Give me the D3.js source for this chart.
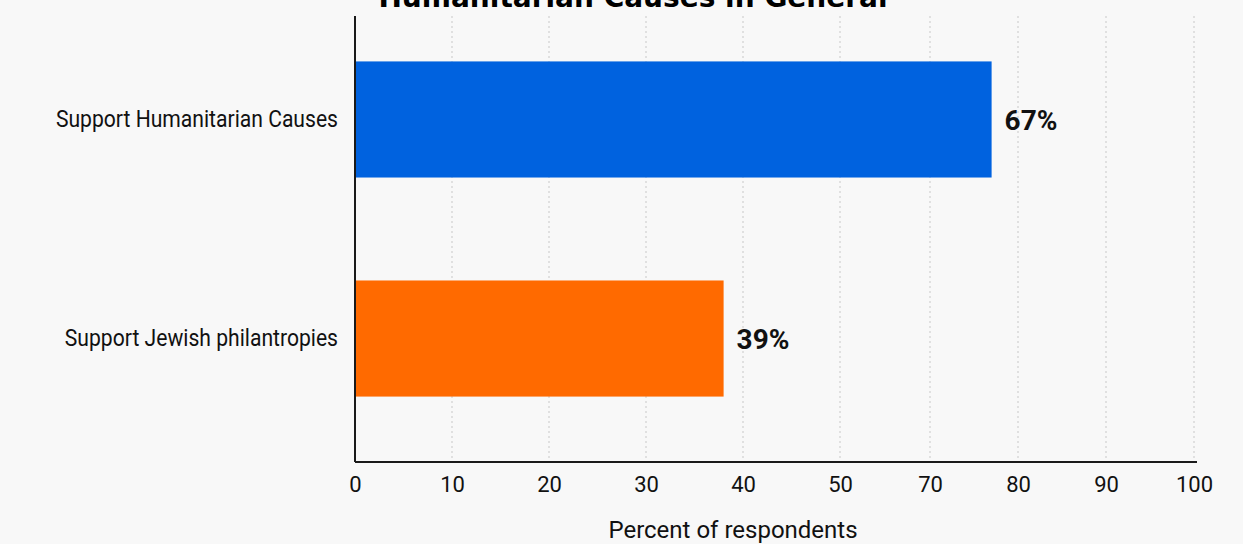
<!DOCTYPE html>
<html>
<head>
<meta charset="utf-8">
<script src="https://cdn.jsdelivr.net/npm/d3@7"></script>
<style>
  html, body { margin: 0; padding: 0; background: #f8f8f8; }
  svg { display: block; }
</style>
</head>
<body>
<svg id="chart" width="1243" height="544"></svg>
<script>
// ---- data ----
const categories = ["Support Humanitarian Causes", "Support Jewish philantropies"];
const values = [77, 38];            // bar lengths as drawn on the axis
const valueLabels = ["67%", "39%"]; // labels printed next to the bars
const barColors = ["#0062df", "#ff6a00"];
const tickValues = [0, 10, 20, 30, 40, 50, 70, 80, 90, 100];
const xTitle = "Percent of respondents";
const titleText = "Humanitarian Causes in General";

// ---- layout ----
const W = 1243, H = 544;
const plotLeft = 355, plotRight = 1194, plotTop = 16, plotBottom = 462;

const svg = d3.select("#chart");
svg.append("rect").attr("width", W).attr("height", H).attr("fill", "#f8f8f8");

// piecewise x scale (axis in the picture skips 60)
const x = d3.scaleLinear()
  .domain([0, 50, 70, 100])
  .range([plotLeft, 840, 930, plotRight]);

const y = d3.scaleBand()
  .domain(categories)
  .range([6, 452])
  .paddingInner(0.47)
  .paddingOuter(0.253);

// gridlines
svg.append("g")
  .selectAll("line")
  .data(tickValues.filter(d => d !== 0))
  .join("line")
  .attr("x1", d => x(d)).attr("x2", d => x(d))
  .attr("y1", plotTop).attr("y2", plotBottom)
  .attr("stroke", "#c8c8c8")
  .attr("stroke-width", 1)
  .attr("stroke-dasharray", "2,3");

// bars
svg.append("g")
  .selectAll("rect")
  .data(categories)
  .join("rect")
  .attr("x", x(0))
  .attr("y", d => y(d))
  .attr("width", (d, i) => x(values[i]) - x(0))
  .attr("height", y.bandwidth())
  .attr("fill", (d, i) => barColors[i]);

// value labels
svg.append("g")
  .selectAll("text")
  .data(categories)
  .join("text")
  .attr("x", (d, i) => x(values[i]) + 13)
  .attr("y", d => y(d) + y.bandwidth() / 2)
  .attr("dy", "0.36em")
  .attr("font-family", "Roboto, 'Noto Sans', sans-serif")
  .attr("font-weight", "bold")
  .attr("font-size", 28)
  .attr("fill", "#111")
  .text((d, i) => valueLabels[i]);

// x axis
const xAxis = d3.axisBottom(x)
  .tickValues(tickValues)
  .tickSize(0)
  .tickPadding(14)
  .tickFormat(d3.format("d"));
const gx = svg.append("g")
  .attr("transform", `translate(0,${plotBottom})`)
  .call(xAxis);
gx.select(".domain").remove();
gx.selectAll("text")
  .attr("font-family", "Roboto, 'Noto Sans', sans-serif")
  .attr("font-size", 22)
  .attr("fill", "#111");

// y axis (condensed look as in the reference)
const yAxis = d3.axisLeft(y).tickSize(0).tickPadding(17);
const gy = svg.append("g")
  .attr("transform", `translate(${plotLeft},0)`)
  .call(yAxis);
gy.select(".domain").remove();
const sx = 0.88;
gy.selectAll("text")
  .attr("font-family", "Roboto, 'Noto Sans', sans-serif")
  .attr("font-size", 24)
  .attr("fill", "#111")
  .attr("x", -17 / sx)
  .attr("transform", `scale(${sx},1)`);

// axis lines
svg.append("line")
  .attr("x1", plotLeft).attr("x2", plotLeft)
  .attr("y1", plotTop).attr("y2", plotBottom)
  .attr("stroke", "#1a1a1a").attr("stroke-width", 2);
svg.append("line")
  .attr("x1", plotLeft).attr("x2", plotRight + 3)
  .attr("y1", plotBottom).attr("y2", plotBottom)
  .attr("stroke", "#1a1a1a").attr("stroke-width", 2);

// axis title
svg.append("text")
  .attr("x", 733)
  .attr("y", 538)
  .attr("text-anchor", "middle")
  .attr("font-family", "Roboto, 'Noto Sans', sans-serif")
  .attr("font-size", 24)
  .attr("fill", "#111")
  .text(xTitle);

// chart title (clipped at the top in the reference)
svg.append("text")
  .attr("x", 633)
  .attr("y", 7)
  .attr("text-anchor", "middle")
  .attr("font-family", "'DejaVu Sans', sans-serif")
  .attr("font-weight", "bold")
  .attr("font-size", 28)
  .attr("fill", "#000")
  .text(titleText);
</script>
</body>
</html>
